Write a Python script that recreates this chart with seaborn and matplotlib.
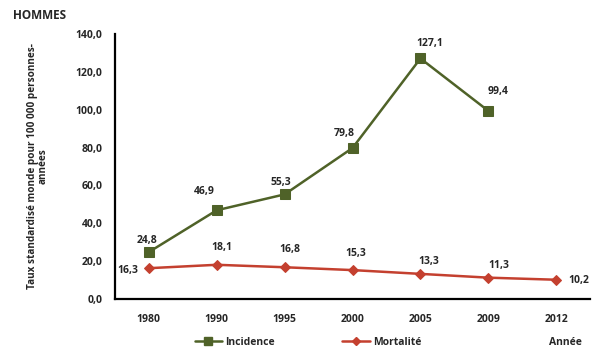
import matplotlib
matplotlib.use("Agg")
import matplotlib.pyplot as plt
import seaborn as sns
import pandas as pd
from matplotlib.lines import Line2D

years = ["1980", "1990", "1995", "2000", "2005", "2009", "2012"]
incidence = [24.8, 46.9, 55.3, 79.8, 127.1, 99.4, None]
mortalite = [16.3, 18.1, 16.8, 15.3, 13.3, 11.3, 10.2]
yticks = [0, 20, 40, 60, 80, 100, 120, 140]

sns.set_theme(style="white")
plt.rcParams['font.family'] = ['Open Sans', 'DejaVu Sans']
plt.rcParams['font.weight'] = 'bold'

green = "#4F6228"
red = "#C4402F"

df = pd.DataFrame({"Année": years, "Incidence": incidence, "Mortalité": mortalite})

fig = plt.figure(figsize=(5.98, 3.51), dpi=100)
ax = fig.add_axes([0.192, 0.148, 0.795, 0.755])

sns.lineplot(data=df.dropna(subset=["Incidence"]), x="Année", y="Incidence", ax=ax,
             color=green, marker="s", markersize=7, linewidth=1.8,
             markeredgecolor=green, sort=False)
sns.lineplot(data=df, x="Année", y="Mortalité", ax=ax,
             color=red, marker="D", markersize=5, linewidth=1.8,
             markeredgecolor=red, sort=False)

ax.set_xlim(-0.5, 6.5)
ax.set_ylim(0, 140)
ax.set_yticks(yticks)
ax.set_yticklabels([f"{v:.1f}".replace(".", ",") for v in yticks], fontsize=7.5, fontweight='bold')
ax.set_xticks(range(len(years)))
ax.set_xticklabels(years, fontsize=7.5, fontweight='bold')
ax.tick_params(axis='both', length=0, pad=9)
ax.tick_params(axis='x', pad=11)
ax.set_xlabel("")
ax.set_ylabel("Taux standardisé monde pour 100 000 personnes-\nannées", fontsize=7.2,
              fontweight='bold', linespacing=0.85)
ax.yaxis.set_label_coords(-0.14, 0.5)

for s in ["top", "right"]:
    ax.spines[s].set_visible(False)
for s in ["left", "bottom"]:
    ax.spines[s].set_color("black")
    ax.spines[s].set_linewidth(1.6)

fmt = lambda v: f"{v:.1f}".replace(".", ",")

inc_offsets = [(-2, 12), (-12, 19), (-4, 12), (-8, 14), (9, 15), (10, 19)]
for i, (v, off) in enumerate(zip(incidence[:6], inc_offsets)):
    ax.annotate(fmt(v), (i, v), xytext=off, textcoords="offset pixels",
                ha="center", va="center", fontsize=7.5, fontweight='bold')

mor_offsets = [(-21, -2), (5, 17), (5, 18), (3, 17), (8, 12), (10, 12), (23, -1)]
for i, (v, off) in enumerate(zip(mortalite, mor_offsets)):
    ax.annotate(fmt(v), (i, v), xytext=off, textcoords="offset pixels",
                ha="center", va="center", fontsize=7.5, fontweight='bold')

handles = [
    Line2D([], [], color=green, marker="s", markersize=6, linewidth=1.8),
    Line2D([], [], color=red, marker="D", markersize=4.5, linewidth=1.8),
]
fig.legend(handles, ["Incidence", "Mortalité"], loc="center", bbox_to_anchor=(0.515, 0.025),
           ncol=2, frameon=False, handlelength=2.6, columnspacing=6.5,
           handletextpad=0.3, prop={'weight': 'bold', 'size': 7.5})

fig.text(0.945, 0.025, "Année", fontsize=7.5, fontweight='bold', ha="center", va="center")
fig.text(0.022, 0.955, "HOMMES", fontsize=8.5, fontweight='bold', ha="left", va="center")

fig.savefig("out.png", dpi=100)
